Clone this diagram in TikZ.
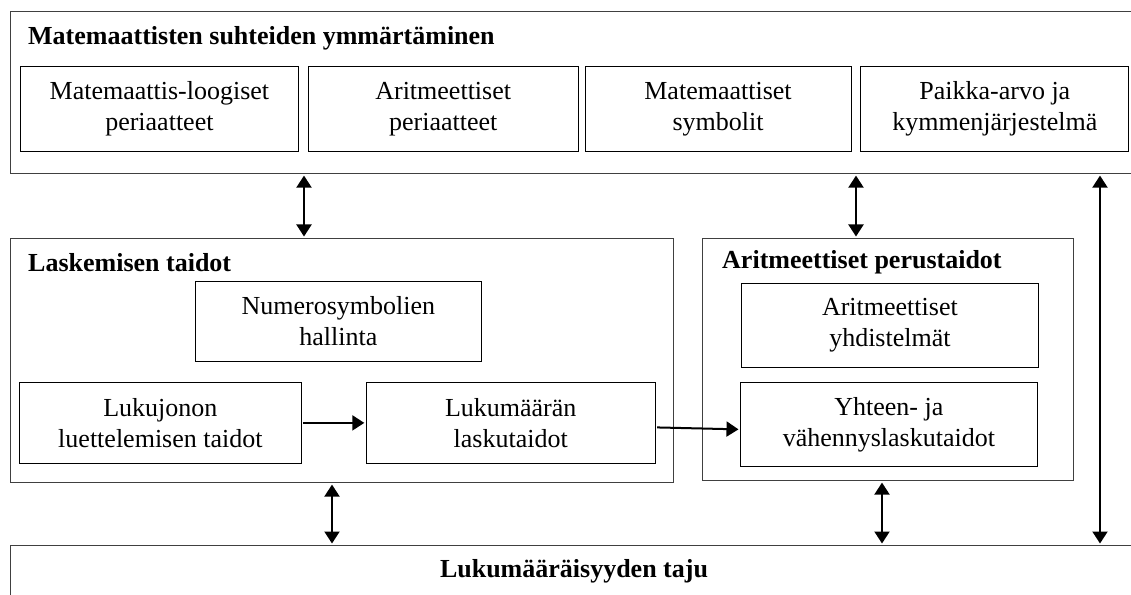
\documentclass[tikz,border=0pt]{standalone}
\usepackage{fontspec}
\setmainfont{Liberation Serif}
\usepackage{tikz}
\usetikzlibrary{positioning,arrows.meta}
\newcommand{\diagfont}{\fontsize{26bp}{31bp}\selectfont}
\tikzset{group box/.style={draw=black!75, line width=1.1bp, rectangle, inner sep=0pt, anchor=north west}}
\tikzset{skill box/.style={draw=black, line width=0.8bp, rectangle, inner sep=0pt, align=center, anchor=north west, minimum height=85bp, font=\diagfont}}
\tikzset{group title/.style={font=\diagfont\bfseries, inner sep=0pt, anchor=base west}}
\tikzset{link/.style={line width=2bp, shorten <=1.5bp, shorten >=1.5bp}}

\begin{document}
\begin{tikzpicture}[x=1bp, y=-1bp, >={Triangle[width=15bp,length=12bp]}]
\useasboundingbox (0,0) rectangle (1131,595);
% ymmartaminen
\node[group box, minimum width=1140bp, minimum height=162bp] (top) at (10,11) {};
\node[group title] (toptitle) at (28,45) {Matemaattisten suhteiden ymmärtäminen};
\node[skill box, minimum width=278bp] (logic) at (20,66) {Matemaattis-loogiset\\periaatteet};
\node[skill box, minimum width=270bp, right=9bp of logic] (aritp) {Aritmeettiset\\periaatteet};
\node[skill box, minimum width=266bp, right=6bp of aritp] (symb) {Matemaattiset\\symbolit};
\node[skill box, minimum width=268bp, right=9bp of symb] (place) {Paikka-arvo ja\\kymmenjärjestelmä};
% laskemisen taidot
\node[group box, minimum width=663bp, minimum height=244bp] (count) at (10,238) {};
\node[group title] (counttitle) at (28,272) {Laskemisen taidot};
\node[skill box, minimum width=286bp, minimum height=80bp] (numsym) at (195,281) {Numerosymbolien\\hallinta};
\node[skill box, minimum width=282bp, minimum height=81bp] (seq) at (19,382) {Lukujonon\\luettelemisen taidot};
\node[skill box, minimum width=289bp, minimum height=81bp, right=64bp of seq] (card) {Lukumäärän\\laskutaidot};
% perustaidot
\node[group box, minimum width=371bp, minimum height=242bp] (arith) at (702,238) {};
\node[group title] (arithtitle) at (722,269) {Aritmeettiset perustaidot};
\node[skill box, minimum width=297bp, minimum height=84bp] (comb) at (741,283) {Aritmeettiset\\yhdistelmät};
\node[skill box, minimum width=297bp, minimum height=84bp] (addsub) at (740,382) {Yhteen- ja\\vähennyslaskutaidot};
% lukumaaraisyyden taju
\node[group box, minimum width=1140bp, minimum height=80bp] (base) at (10,545) {};
\node[group title, anchor=base] (basetitle) at (574,577) {Lukumääräisyyden taju};
% yhteydet
\draw[link, <->] (top.south -| 304,0) -- (count.north -| 304,0);
\draw[link, <->] (top.south -| 856,0) -- (arith.north -| 856,0);
\draw[link, <->] (top.south -| 1100,0) -- (base.north -| 1100,0);
\draw[link, <->] (count.south -| 332,0) -- (base.north -| 332,0);
\draw[link, <->] (arith.south -| 882,0) -- (base.north -| 882,0);
\draw[link, ->] (seq) -- (card);
\draw[link, ->] ([yshift=-4.5bp]card.east) -- ([yshift=-5bp]addsub.west);
\end{tikzpicture}
\end{document}
